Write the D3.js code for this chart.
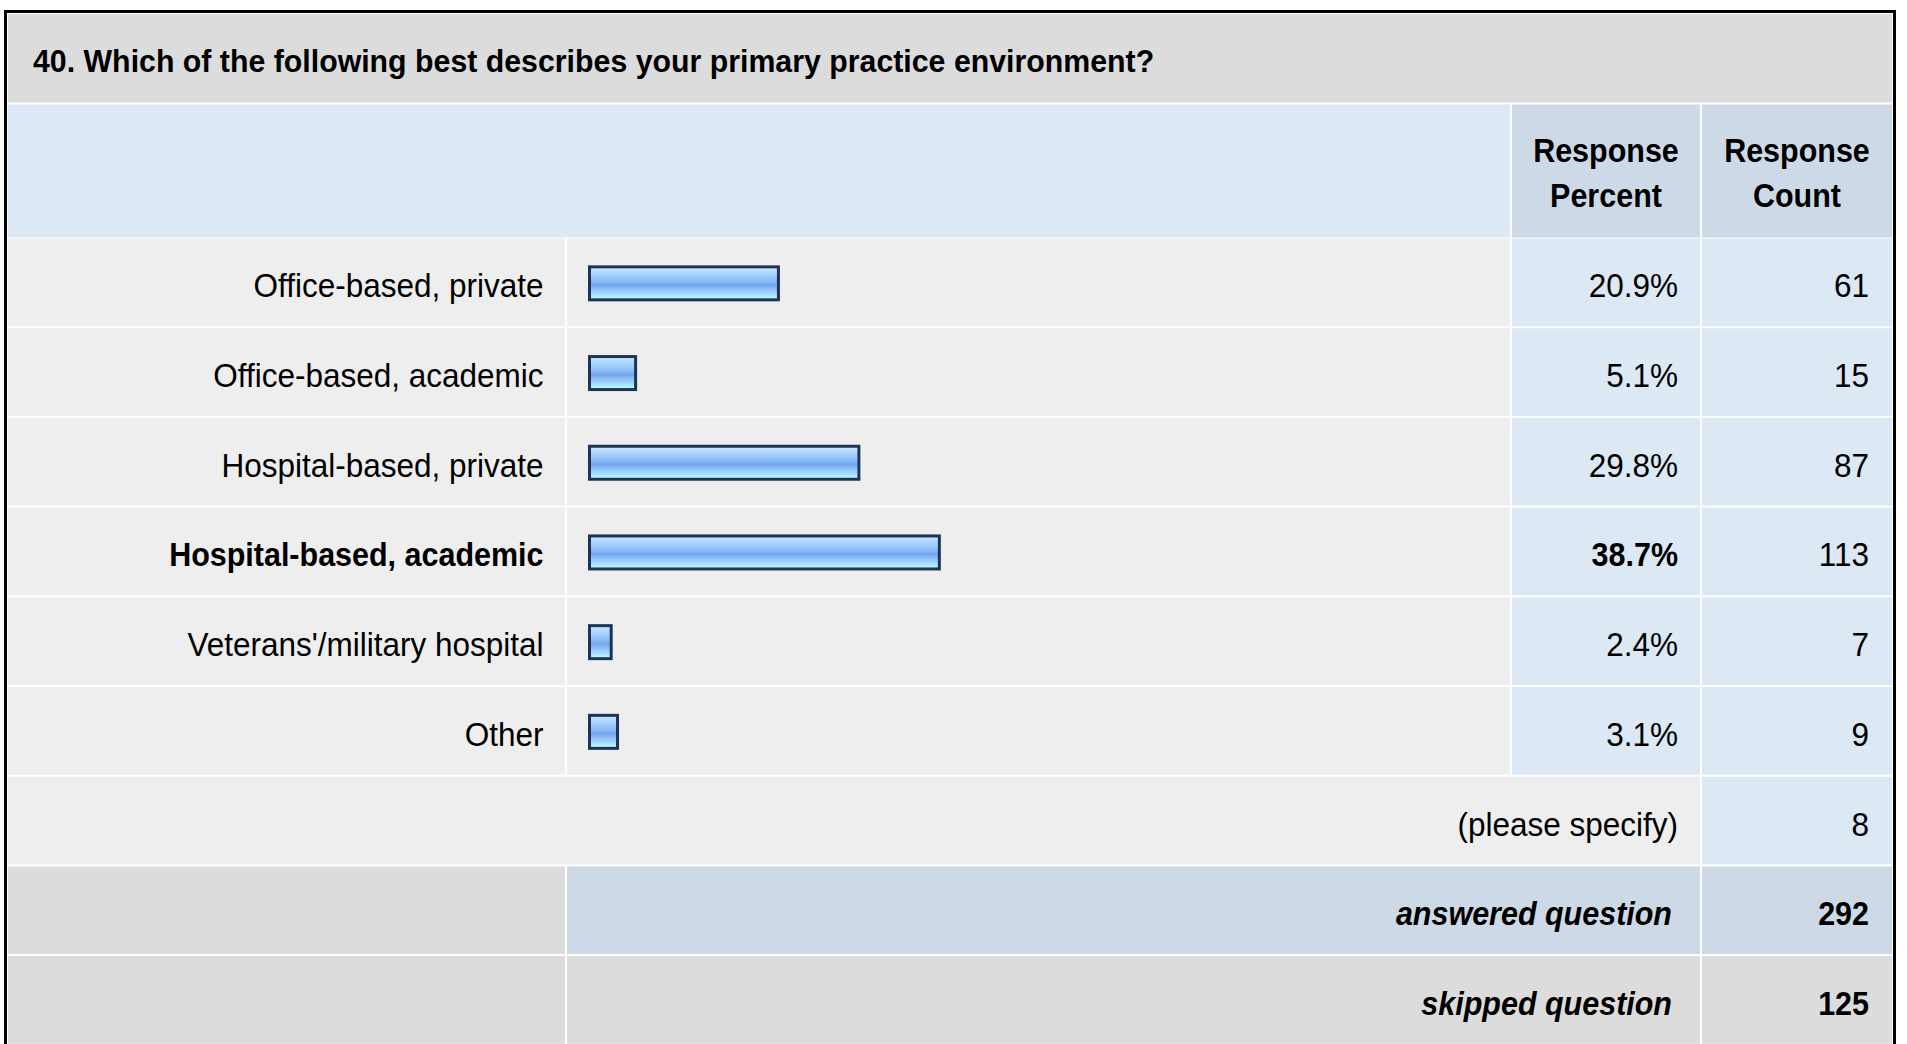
<!DOCTYPE html>
<html>
<head>
<meta charset="utf-8">
<script src="https://cdn.jsdelivr.net/npm/d3@7"></script>
<style>
  html, body { margin: 0; padding: 0; background: #ffffff; }
  svg { display: block; }
  text { font-family: "Liberation Sans", Arial, sans-serif; fill: #000; }
</style>
</head>
<body>
<svg id="chart" width="1907" height="1044"></svg>
<script>
// Survey question 40 – response summary
const questionTitle = "40. Which of the following best describes your primary practice environment?";
const categories = [
  "Office-based, private",
  "Office-based, academic",
  "Hospital-based, private",
  "Hospital-based, academic",
  "Veterans'/military hospital",
  "Other"
];
const responsePercent = [20.9, 5.1, 29.8, 38.7, 2.4, 3.1];
const responseCount = [61, 15, 87, 113, 7, 9];
const headerLines = [["Response", "Percent"], ["Response", "Count"]];
const specifyLabel = "(please specify)";
const specifyCount = 8;
const answeredLabel = "answered question";
const answeredCount = 292;
const skippedLabel = "skipped question";
const skippedCount = 125;

const svg = d3.select("#chart");
const FS = 31.5;      // regular text
const FSB = 30.5;     // bold text
const STRETCH = 1.06; // glyphs are drawn slightly taller than wide

// column edges
const colLabel = [8, 565], colBar = [567, 1510], colPct = [1512, 1700], colCnt = [1702, 1892];

// row layout: header band followed by equal-height rows
const rowKeys = categories.concat(["specify", "answered", "skipped"]);
const y = d3.scaleBand().domain(rowKeys).range([238.5, 238.5 + 89.7 * rowKeys.length]).paddingInner(0);
const x = d3.scaleLinear().domain([0, 100]).range([589.5, 1493.5]);

// text helper: stretches glyphs vertically about their baseline
function label(parent, tx, ty, str, opts = {}) {
  return parent.append("text")
    .attr("x", tx).attr("y", ty)
    .attr("transform", `translate(0,${ty}) scale(1,${STRETCH}) translate(0,${-ty})`)
    .attr("text-anchor", opts.anchor || "end")
    .attr("font-size", opts.bold ? FSB : FS)
    .attr("font-weight", opts.bold ? "bold" : "normal")
    .attr("font-style", opts.italic ? "italic" : "normal")
    .text(str);
}

// gradient for bars
const defs = svg.append("defs");
const grad = defs.append("linearGradient").attr("id", "barGrad").attr("x1", 0).attr("y1", 0).attr("x2", 0).attr("y2", 1);
[[0, "#d2eaff"], [0.15, "#b3d9ff"], [0.3, "#9dcbfd"], [0.45, "#86b9f4"], [0.55, "#72a6ec"],
 [0.68, "#8ec1f8"], [0.8, "#a3d4ff"], [0.9, "#b0eeff"], [1, "#b6ffff"]]
  .forEach(([o, c]) => grad.append("stop").attr("offset", o).attr("stop-color", c));

// outer frame
svg.append("rect").attr("x", 5.5).attr("y", 11.5).attr("width", 1889).attr("height", 1060)
  .attr("fill", "#ffffff").attr("stroke", "#000").attr("stroke-width", 3);

// title band
svg.append("rect").attr("x", 8).attr("y", 14).attr("width", 1884).attr("height", 88.5).attr("fill", "#dcdcdc");
svg.append("text").attr("x", 33).attr("y", 72)
  .attr("transform", `translate(0,72) scale(1,${STRETCH}) translate(0,-72)`)
  .attr("font-size", 30.3).attr("font-weight", "bold").text(questionTitle);

// header band
svg.append("rect").attr("x", 8).attr("y", 104.5).attr("width", colBar[1] - 8).attr("height", 133).attr("fill", "#dde8f5");
[colPct, colCnt].forEach((c, i) => {
  svg.append("rect").attr("x", c[0]).attr("y", 104.5).attr("width", c[1] - c[0]).attr("height", 133).attr("fill", "#cdd9e6");
  headerLines[i].forEach((line, j) => {
    label(svg, (c[0] + c[1]) / 2, 162 + j * 45, line, { anchor: "middle", bold: true });
  });
});

function cell(key, c, fill) {
  svg.append("rect").attr("x", c[0]).attr("y", y(key)).attr("width", c[1] - c[0])
    .attr("height", y.bandwidth() - 2).attr("fill", fill);
}
const baseY = key => y(key) + y.bandwidth() / 2 + 14;

const maxPct = d3.max(responsePercent);

// category rows
categories.forEach(cat => {
  cell(cat, colLabel, "#eeeeee");
  cell(cat, colBar, "#eeeeee");
  cell(cat, colPct, "#dde8f5");
  cell(cat, colCnt, "#dde8f5");
});

const rowData = categories.map((c, i) => ({
  cat: c, pct: responsePercent[i], cnt: responseCount[i], top: responsePercent[i] === maxPct
}));

svg.append("g").selectAll("rect").data(rowData).join("rect")
  .attr("x", x(0))
  .attr("y", d => y(d.cat) + y.bandwidth() / 2 - 16.5)
  .attr("width", d => x(d.pct) - x(0))
  .attr("height", 33)
  .attr("fill", "url(#barGrad)")
  .attr("stroke", "#1e3456")
  .attr("stroke-width", 3);

const textG = svg.append("g");
rowData.forEach(d => {
  label(textG, 543.5, baseY(d.cat), d.cat, { bold: d.top });
  label(textG, 1678, baseY(d.cat), d.pct.toFixed(1) + "%", { bold: d.top });
  label(textG, 1869, baseY(d.cat), d.cnt);
});

// "please specify" row
cell("specify", [colLabel[0], colPct[1]], "#eeeeee");
cell("specify", colCnt, "#dde8f5");
label(svg, 1678, baseY("specify"), specifyLabel);
label(svg, 1869, baseY("specify"), specifyCount);

// summary rows
[["answered", answeredLabel, answeredCount, "#cdd9e6"], ["skipped", skippedLabel, skippedCount, "#dcdcdc"]]
  .forEach(([key, text, count, fill]) => {
    cell(key, colLabel, "#dcdcdc");
    cell(key, [colBar[0], colPct[1]], fill);
    cell(key, colCnt, fill);
    label(svg, 1672, baseY(key), text, { bold: true, italic: true });
    label(svg, 1869, baseY(key), count, { bold: true });
  });
</script>
</body>
</html>
